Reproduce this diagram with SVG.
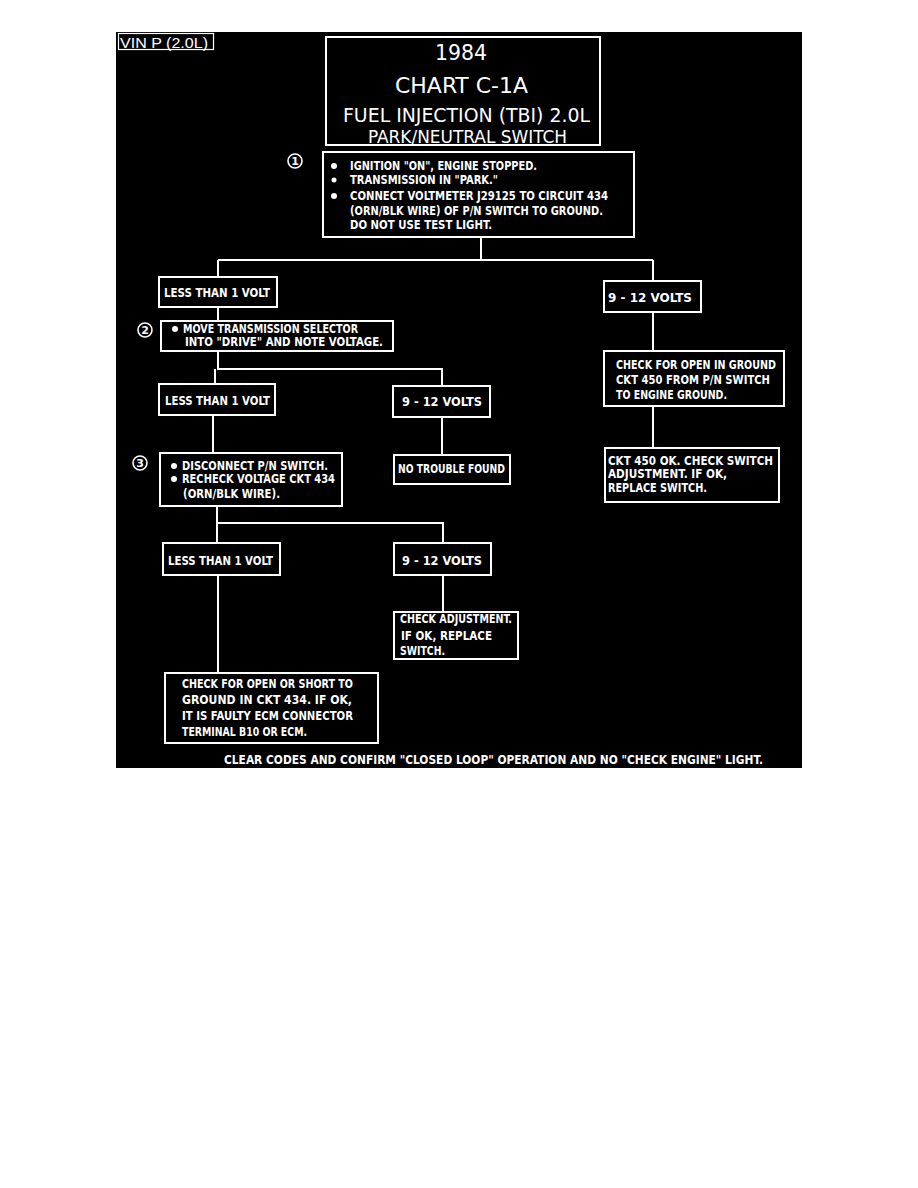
<svg xmlns="http://www.w3.org/2000/svg" width="918" height="1188" viewBox="0 0 918 1188">
<style>
.box{fill:none;stroke:#fff;stroke-width:2}
.ln{fill:none;stroke:#fff;stroke-width:2}
.t{font-family:"DejaVu Sans Condensed","DejaVu Sans",sans-serif;font-weight:bold;font-size:11.5px;fill:#fff}
.ti{font-family:"DejaVu Sans Condensed","DejaVu Sans",sans-serif;fill:#fff}
.num{font-family:"DejaVu Sans","Liberation Sans",sans-serif;font-weight:bold;font-size:11px;fill:#fff;text-anchor:middle}
.circ{fill:none;stroke:#fff;stroke-width:1.6}
</style>
<rect x="0" y="0" width="918" height="1188" fill="#fff"/>
<rect x="116" y="32" width="686" height="736" fill="#000"/>
<g id="vin">
<rect x="118.5" y="33.5" width="95" height="16" fill="#000" stroke="#fff" stroke-width="1.2"/>
<text x="120" y="47.5" font-family="Liberation Sans, Arial, sans-serif" font-size="15.5" fill="#fff" textLength="88" lengthAdjust="spacingAndGlyphs">VIN P (2.0L)</text>
</g>
<g id="connectors">
<path class="ln" d="M481 236V260M218 260H653M218 260V277M653 260V281"/>
<path class="ln" d="M218 307V321M653 312V351M653 406V448"/>
<path class="ln" d="M218 351V369H442V386M215 369V384M213 415V453M442 417V455"/>
<path class="ln" d="M217 506V523H443V543M217 523V543M443 575V612M218 575V673"/>
</g>
<g id="title">
<rect x="326" y="37" width="274" height="108" class="box"/>
<text class="ti" x="461" y="60" font-size="22" text-anchor="middle" textLength="52" lengthAdjust="spacingAndGlyphs">1984</text>
<text class="ti" x="461.5" y="93" font-size="21" text-anchor="middle" textLength="133" lengthAdjust="spacingAndGlyphs">CHART C-1A</text>
<text class="ti" x="466.5" y="122" font-size="20" text-anchor="middle" textLength="247" lengthAdjust="spacingAndGlyphs">FUEL INJECTION (TBI) 2.0L</text>
<text class="ti" x="467.5" y="143" font-size="18" text-anchor="middle" textLength="199" lengthAdjust="spacingAndGlyphs">PARK/NEUTRAL SWITCH</text>
</g>
<g id="step1">
<circle cx="295" cy="161" r="7" class="circ"/>
<text class="num" x="295" y="165">1</text>
<rect x="323" y="152" width="311" height="85" class="box"/>
<circle cx="334" cy="166" r="3" fill="#fff"/>
<circle cx="334" cy="180" r="2.5" fill="#fff"/>
<circle cx="334" cy="196" r="3" fill="#fff"/>
<text class="t" x="350" y="170" textLength="187" lengthAdjust="spacingAndGlyphs">IGNITION "ON", ENGINE STOPPED.</text>
<text class="t" x="350" y="184" textLength="148" lengthAdjust="spacingAndGlyphs">TRANSMISSION IN "PARK."</text>
<text class="t" x="350" y="200" textLength="258" lengthAdjust="spacingAndGlyphs">CONNECT VOLTMETER J29125 TO CIRCUIT 434</text>
<text class="t" x="350" y="215" textLength="253" lengthAdjust="spacingAndGlyphs">(ORN/BLK WIRE) OF P/N SWITCH TO GROUND.</text>
<text class="t" x="350" y="229" textLength="142" lengthAdjust="spacingAndGlyphs">DO NOT USE TEST LIGHT.</text>
</g>
<g id="less1">
<rect x="159" y="277" width="118" height="30" class="box"/>
<text class="t" x="164" y="297" textLength="106" lengthAdjust="spacingAndGlyphs">LESS THAN 1 VOLT</text>
</g>
<g id="volts1">
<rect x="604" y="281" width="97" height="31" class="box"/>
<text class="t" x="608" y="302" textLength="84" lengthAdjust="spacingAndGlyphs">9 - 12 VOLTS</text>
</g>
<g id="step2">
<circle cx="145" cy="330" r="7" class="circ"/>
<text class="num" x="145" y="334">2</text>
<rect x="161" y="321" width="232" height="30" class="box"/>
<circle cx="175" cy="329" r="3" fill="#fff"/>
<text class="t" x="183" y="333" textLength="175" lengthAdjust="spacingAndGlyphs">MOVE TRANSMISSION SELECTOR</text>
<text class="t" x="185" y="346" textLength="198" lengthAdjust="spacingAndGlyphs">INTO "DRIVE" AND NOTE VOLTAGE.</text>
</g>
<g id="less2">
<rect x="159" y="384" width="116" height="31" class="box"/>
<text class="t" x="165" y="405" textLength="105" lengthAdjust="spacingAndGlyphs">LESS THAN 1 VOLT</text>
</g>
<g id="volts2">
<rect x="393" y="386" width="97" height="31" class="box"/>
<text class="t" x="402" y="406" textLength="80" lengthAdjust="spacingAndGlyphs">9 - 12 VOLTS</text>
</g>
<g id="step3">
<circle cx="140" cy="463" r="7" class="circ"/>
<text class="num" x="140" y="467">3</text>
<rect x="160" y="453" width="182" height="53" class="box"/>
<circle cx="174" cy="466" r="3" fill="#fff"/>
<circle cx="174" cy="479" r="3" fill="#fff"/>
<text class="t" x="182" y="470" textLength="146" lengthAdjust="spacingAndGlyphs">DISCONNECT P/N SWITCH.</text>
<text class="t" x="182" y="483" textLength="153" lengthAdjust="spacingAndGlyphs">RECHECK VOLTAGE CKT 434</text>
<text class="t" x="183" y="498" textLength="97" lengthAdjust="spacingAndGlyphs">(ORN/BLK WIRE).</text>
</g>
<g id="notrouble">
<rect x="394" y="455" width="116" height="29" class="box"/>
<text class="t" x="398" y="473" textLength="107" lengthAdjust="spacingAndGlyphs">NO TROUBLE FOUND</text>
</g>
<g id="checkopen">
<rect x="604" y="351" width="180" height="55" class="box"/>
<text class="t" x="616" y="369" textLength="160" lengthAdjust="spacingAndGlyphs">CHECK FOR OPEN IN GROUND</text>
<text class="t" x="616" y="384" textLength="154" lengthAdjust="spacingAndGlyphs">CKT 450 FROM P/N SWITCH</text>
<text class="t" x="616" y="399" textLength="111" lengthAdjust="spacingAndGlyphs">TO ENGINE GROUND.</text>
</g>
<g id="ckt450">
<rect x="605" y="448" width="174" height="54" class="box"/>
<text class="t" x="608" y="465" textLength="165" lengthAdjust="spacingAndGlyphs">CKT 450 OK. CHECK SWITCH</text>
<text class="t" x="608" y="478" textLength="119" lengthAdjust="spacingAndGlyphs">ADJUSTMENT.  IF OK,</text>
<text class="t" x="608" y="492" textLength="99" lengthAdjust="spacingAndGlyphs">REPLACE SWITCH.</text>
</g>
<g id="less3">
<rect x="163" y="543" width="117" height="32" class="box"/>
<text class="t" x="168" y="565" textLength="105" lengthAdjust="spacingAndGlyphs">LESS THAN 1 VOLT</text>
</g>
<g id="volts3">
<rect x="394" y="543" width="97" height="32" class="box"/>
<text class="t" x="402" y="565" textLength="80" lengthAdjust="spacingAndGlyphs">9 - 12 VOLTS</text>
</g>
<g id="checkadj">
<rect x="394" y="612" width="124" height="47" class="box"/>
<text class="t" x="400" y="623" textLength="112" lengthAdjust="spacingAndGlyphs">CHECK ADJUSTMENT.</text>
<text class="t" x="401" y="640" textLength="91" lengthAdjust="spacingAndGlyphs">IF OK, REPLACE</text>
<text class="t" x="400" y="655" textLength="45" lengthAdjust="spacingAndGlyphs">SWITCH.</text>
</g>
<g id="checkshort">
<rect x="165" y="673" width="213" height="70" class="box"/>
<text class="t" x="182" y="688" textLength="171" lengthAdjust="spacingAndGlyphs">CHECK FOR OPEN OR SHORT TO</text>
<text class="t" x="182" y="704" textLength="170" lengthAdjust="spacingAndGlyphs">GROUND IN CKT 434.  IF OK,</text>
<text class="t" x="182" y="720" textLength="171" lengthAdjust="spacingAndGlyphs">IT IS FAULTY ECM CONNECTOR</text>
<text class="t" x="182" y="736" textLength="125" lengthAdjust="spacingAndGlyphs">TERMINAL B10 OR ECM.</text>
</g>
<g id="footer">
<text class="t" x="224" y="764" textLength="539" lengthAdjust="spacingAndGlyphs">CLEAR CODES AND CONFIRM "CLOSED LOOP" OPERATION AND NO "CHECK ENGINE" LIGHT.</text>
</g>
</svg>
